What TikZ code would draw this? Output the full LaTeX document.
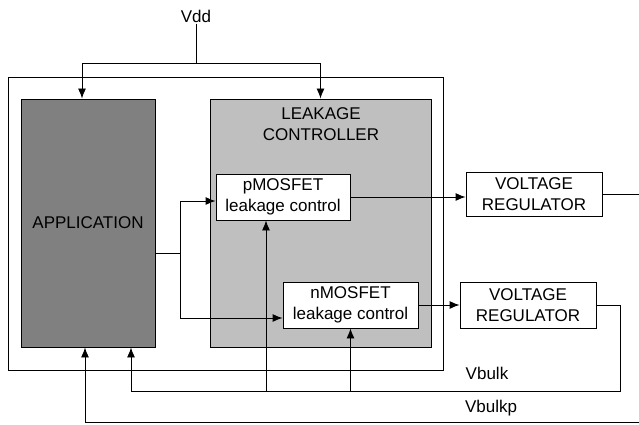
\documentclass[tikz,border=0pt]{standalone}
\usepackage{fontspec}
\setmainfont{Liberation Sans}
\usetikzlibrary{arrows.meta,positioning}

\begin{document}
\begin{tikzpicture}[x=1pt,y=-1pt,>={Latex[length=10pt,width=8pt]},line width=0.9pt,
  box/.style={draw,inner sep=0pt,align=center,font=\fontsize{17}{21}\selectfont},
  lbl/.style={inner sep=1pt,font=\fontsize{17}{21}\selectfont}]
  \useasboundingbox (0,0) rectangle (639,425);
  \node[box,minimum width=435pt,minimum height=293pt] (sys) at (225.5,223.5) {};
  \node[box,fill=black!50,minimum width=134pt,minimum height=248pt] (app) at (88,223) {APPLICATION};
  \node[box,fill=black!25,minimum width=221pt,minimum height=248pt] (lc) at (320.5,223) {};
  \node[lbl,align=center] (lctitle) at (321,124) {LEAKAGE\\CONTROLLER};
  \node[box,fill=white,minimum width=134pt,minimum height=46pt] (pmos) at (283,197) {pMOSFET\\leakage control};
  \node[box,fill=white,minimum width=135pt,minimum height=46pt] (nmos) at (350.5,305) {nMOSFET\\leakage control};
  \node[box,minimum width=136pt,minimum height=44pt] (vr1) at (534,194) {VOLTAGE\\REGULATOR};
  \node[box,minimum width=136pt,minimum height=46pt] (vr2) at (528,305) {VOLTAGE\\REGULATOR};
  \node[lbl] (vdd) at (196,16) {Vdd};
  \node[lbl] (vbulk) at (487,373) {Vbulk};
  \node[lbl] (vbulkp) at (491,408) {Vbulkp};

  \coordinate (vsplit) at (196,63);
  \coordinate (asplit) at (180,253);
  \coordinate (vbk) at (620,391);
  \coordinate (vbp) at (639,422);
  \coordinate (rim) at (639,0);

  \draw (vdd) -- (vsplit);
  \draw[->] (vsplit) -| ([xshift=-6pt]app.north);
  \draw[->] (vsplit) -| (lc.north);
  \draw (app.east |- asplit) -- (asplit);
  \draw[->] (asplit) |- ([yshift=-4pt]pmos.west);
  \draw[->] (asplit) |- ([yshift=-13pt]nmos.west);
  \draw[->] (pmos.east) -- (pmos.east -| vr1.west);
  \draw (vr1.east) -- (vr1.east -| rim);
  \draw[->] (nmos.east) -- (vr2.west);
  \draw[->] (vr2.east) -| (vbk) -| ([xshift=43pt]app.south);
  \draw[->] (vbk -| pmos.south) ++(-17,0) -- ([xshift=-17pt]pmos.south);
  \draw[->] (vbk -| nmos.south) -- (nmos.south);
  \draw[->] (vbp) -| ([xshift=-3pt]app.south);
\end{tikzpicture}
\end{document}
